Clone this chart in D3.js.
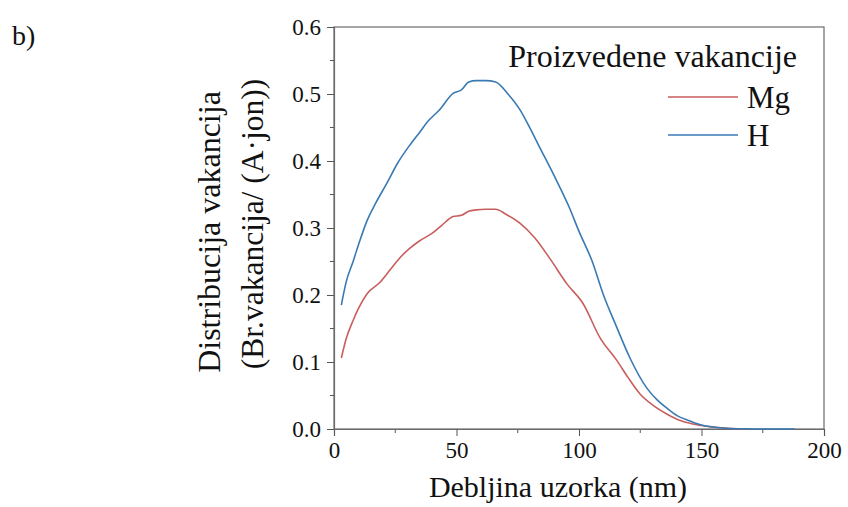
<!DOCTYPE html>
<html>
<head>
<meta charset="utf-8">
<script src="https://cdn.jsdelivr.net/npm/d3@7"></script>
<style>
  html, body { margin: 0; padding: 0; background: #fff; }
  svg { display: block; }
</style>
</head>
<body>
<svg id="chart" width="848" height="507"></svg>
<script>
// Depth (nm) vs. vacancy distribution for Mg and H
const mgDepth = [3, 5, 7.8, 10, 13.5, 18.8, 23, 27, 31, 35, 40.4, 44, 48.6, 52, 55, 58, 62, 66, 70, 76, 82, 88, 95, 101.7, 108.6, 115.5, 120, 125, 130, 136, 141, 146.5, 152, 159, 168];
const mgValue = [0.106, 0.135, 0.162, 0.18, 0.202, 0.219, 0.238, 0.256, 0.27, 0.281, 0.293, 0.304, 0.317, 0.319, 0.325, 0.327, 0.328, 0.328, 0.321, 0.307, 0.285, 0.255, 0.217, 0.187, 0.136, 0.102, 0.077, 0.052, 0.036, 0.022, 0.013, 0.0075, 0.004, 0.0015, 0.0];
const hDepth = [3, 5, 7.8, 10, 13.5, 17, 21.6, 26, 31, 35, 38, 43, 48.6, 52, 55, 58, 62, 66, 71, 76, 80, 84, 90, 96, 100, 105.3, 109.8, 115.5, 120.8, 127.7, 132, 135.9, 140, 145.3, 150, 154.7, 160, 167, 178, 188];
const hValue = [0.185, 0.22, 0.25, 0.275, 0.311, 0.337, 0.367, 0.397, 0.424, 0.443, 0.458, 0.476, 0.501, 0.506, 0.518, 0.52, 0.52, 0.518, 0.5, 0.476, 0.449, 0.42, 0.377, 0.331, 0.295, 0.251, 0.202, 0.151, 0.106, 0.061, 0.043, 0.031, 0.02, 0.012, 0.006, 0.003, 0.0012, 0.0004, 0.0, 0.0];
const xTicks = [0, 50, 100, 150, 200];
const yTicks = [0.0, 0.1, 0.2, 0.3, 0.4, 0.5, 0.6];
const seriesNames = ["Mg", "H"];
const seriesColors = ["#c95e5e", "#3a7ab3"];

const FONT = "Liberation Serif";
const svg = d3.select("#chart");
const margin = { left: 334, right: 24, top: 27, bottom: 78 };
const W = 848, H = 507;

const x = d3.scaleLinear().domain([0, 200]).range([margin.left, W - margin.right]);
const y = d3.scaleLinear().domain([0, 0.6]).range([H - margin.bottom, margin.top]);

function label(sel) {
  return sel.attr("font-family", FONT).attr("fill", "#111");
}

// frame
svg.append("rect")
  .attr("x", x(0)).attr("y", y(0.6))
  .attr("width", x(200) - x(0)).attr("height", y(0) - y(0.6))
  .attr("fill", "none").attr("stroke", "#6b6b6b").attr("stroke-width", 1.2);

// minor ticks
const xMinor = d3.range(25, 200, 50);
const yMinor = d3.range(0.05, 0.6, 0.1);
svg.append("g").selectAll("line").data(xMinor).join("line")
  .attr("x1", d => x(d)).attr("x2", d => x(d))
  .attr("y1", y(0)).attr("y2", y(0) + 4)
  .attr("stroke", "#555").attr("stroke-width", 1);
svg.append("g").selectAll("line").data(yMinor).join("line")
  .attr("y1", d => y(d)).attr("y2", d => y(d))
  .attr("x1", x(0)).attr("x2", x(0) - 4)
  .attr("stroke", "#555").attr("stroke-width", 1);

// axes
const xAxis = svg.append("g")
  .attr("transform", `translate(0,${y(0)})`)
  .call(d3.axisBottom(x).tickValues(xTicks).tickSize(7).tickPadding(5).tickFormat(d3.format("d")));
const yAxis = svg.append("g")
  .attr("transform", `translate(${x(0)},0)`)
  .call(d3.axisLeft(y).tickValues(yTicks).tickSize(7).tickPadding(6).tickFormat(d3.format(".1f")));
[xAxis, yAxis].forEach(a => {
  a.attr("font-family", null).attr("font-size", null);
  a.select(".domain").attr("stroke", "#6b6b6b").attr("stroke-width", 1.2);
  a.selectAll(".tick line").attr("stroke", "#555").attr("stroke-width", 1);
  a.selectAll(".tick text").call(label).attr("font-size", 23);
});
xAxis.selectAll(".tick text").attr("dy", "0.75em");

// curves
const line = d3.line().x(d => x(d[0])).y(d => y(d[1])).curve(d3.curveMonotoneX);
const seriesData = [
  d3.zip(mgDepth, mgValue),
  d3.zip(hDepth, hValue)
];
seriesData.forEach((s, i) => {
  svg.append("path").datum(s)
    .attr("d", line)
    .attr("fill", "none")
    .attr("stroke", seriesColors[i])
    .attr("stroke-width", 1.6);
});

// legend
const lg = svg.append("g");
lg.append("text").attr("x", 797).attr("y", 67).attr("text-anchor", "end")
  .attr("font-size", 32).call(label).text("Proizvedene vakancije");
seriesNames.forEach((name, i) => {
  const ly = 97 + i * 38;
  lg.append("line").attr("x1", 668).attr("x2", 738).attr("y1", ly).attr("y2", ly)
    .attr("stroke", seriesColors[i]).attr("stroke-width", 1.6);
  lg.append("text").attr("x", 747).attr("y", ly + 11)
    .attr("font-size", 31).call(label).text(name);
});

// axis titles
svg.append("text").attr("x", 558).attr("y", 497)
  .attr("text-anchor", "middle").attr("font-size", 30).call(label)
  .text("Debljina uzorka (nm)");
svg.append("text").attr("transform", "translate(220,232) rotate(-90)")
  .attr("text-anchor", "middle").attr("font-size", 32).call(label)
  .text("Distribucija vakancija");
svg.append("text").attr("transform", "translate(263,224) rotate(-90)")
  .attr("text-anchor", "middle").attr("font-size", 31.5).call(label)
  .text("(Br.vakancija/ (A·jon))");

// panel label
svg.append("text").attr("x", 12).attr("y", 45)
  .attr("font-size", 28).call(label).text("b)");
</script>
</body>
</html>
